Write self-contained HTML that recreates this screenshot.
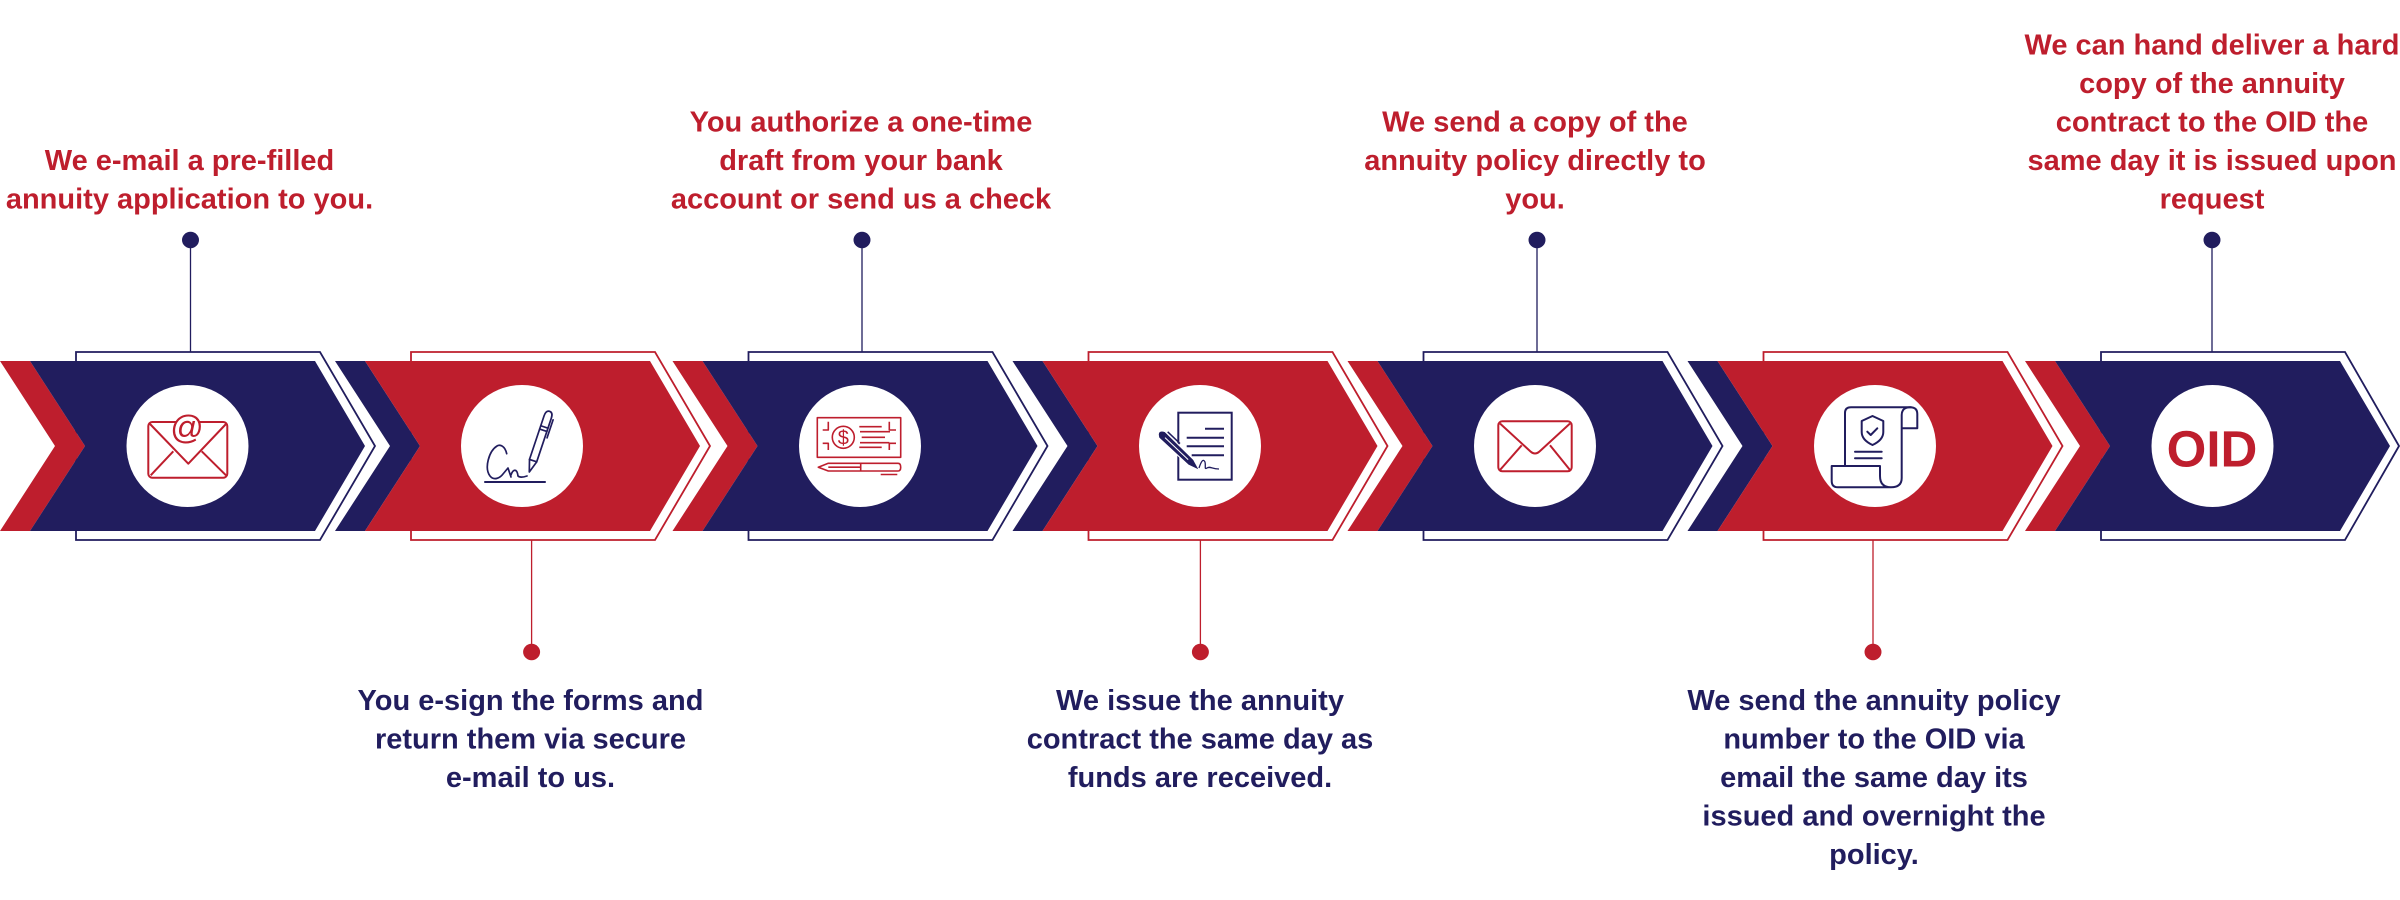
<!DOCTYPE html>
<html>
<head>
<meta charset="utf-8">
<style>
  html, body { margin:0; padding:0; background:#ffffff; }
  body { width:2400px; height:900px; overflow:hidden; position:relative; }
  svg { display:block; }
  .t { font-family:"Liberation Sans", Arial, sans-serif; font-weight:bold; font-size:29px; text-anchor:middle; }
  .tr { fill:#BE1E2D; }
  .tn { fill:#211D5E; }
</style>
</head>
<body>
<svg width="2400" height="900" viewBox="0 0 2400 900" xmlns="http://www.w3.org/2000/svg">
  <rect x="0" y="0" width="2400" height="900" fill="#ffffff"/>

  <!-- outlines (behind) -->
  <g fill="none" stroke-width="1.8">
    <path d="M76,352 H320 L375,446 L320,540 H76 Z" stroke="#211D5E"/>
    <path d="M411,352 H655 L710,446 L655,540 H411 Z" stroke="#BE1E2D"/>
    <path d="M748.5,352 H992.5 L1047.5,446 L992.5,540 H748.5 Z" stroke="#211D5E"/>
    <path d="M1088.5,352 H1332.5 L1387.5,446 L1332.5,540 H1088.5 Z" stroke="#BE1E2D"/>
    <path d="M1423.5,352 H1667.5 L1722.5,446 L1667.5,540 H1423.5 Z" stroke="#211D5E"/>
    <path d="M1763.5,352 H2007.5 L2062.5,446 L2007.5,540 H1763.5 Z" stroke="#BE1E2D"/>
    <path d="M2101,352 H2345 L2399,446 L2345,540 H2101 Z" stroke="#211D5E"/>
  </g>

  <!-- stripes -->
  <polygon points="0,361 30,361 85,446 30,531 0,531 55,446" fill="#BE1E2D"/>
  <polygon points="335,361 365,361 420,446 365,531 335,531 390,446" fill="#211D5E"/>
  <polygon points="672.5,361 702.5,361 757.5,446 702.5,531 672.5,531 727.5,446" fill="#BE1E2D"/>
  <polygon points="1012.5,361 1042.5,361 1097.5,446 1042.5,531 1012.5,531 1067.5,446" fill="#211D5E"/>
  <polygon points="1347.5,361 1377.5,361 1432.5,446 1377.5,531 1347.5,531 1402.5,446" fill="#BE1E2D"/>
  <polygon points="1687.5,361 1717.5,361 1772.5,446 1717.5,531 1687.5,531 1742.5,446" fill="#211D5E"/>
  <polygon points="2025,361 2055,361 2110,446 2055,531 2025,531 2080,446" fill="#BE1E2D"/>

  <!-- bodies -->
  <polygon points="30,361 315,361 365,446 315,531 30,531 85,446" fill="#211D5E"/>
  <polygon points="365,361 650,361 700,446 650,531 365,531 420,446" fill="#BE1E2D"/>
  <polygon points="702.5,361 987.5,361 1037.5,446 987.5,531 702.5,531 757.5,446" fill="#211D5E"/>
  <polygon points="1042.5,361 1327.5,361 1377.5,446 1327.5,531 1042.5,531 1097.5,446" fill="#BE1E2D"/>
  <polygon points="1377.5,361 1662.5,361 1712.5,446 1662.5,531 1377.5,531 1432.5,446" fill="#211D5E"/>
  <polygon points="1717.5,361 2002.5,361 2052.5,446 2002.5,531 1717.5,531 1772.5,446" fill="#BE1E2D"/>
  <polygon points="2055,361 2340,361 2390,446 2340,531 2055,531 2110,446" fill="#211D5E"/>

  <!-- circles -->
  <g fill="#ffffff">
    <circle cx="187.5" cy="446" r="61"/>
    <circle cx="522" cy="446" r="61"/>
    <circle cx="860" cy="446" r="61"/>
    <circle cx="1200" cy="446" r="61"/>
    <circle cx="1535" cy="446" r="61"/>
    <circle cx="1875" cy="446" r="61"/>
    <circle cx="2212.5" cy="446" r="61"/>
  </g>

  <!-- connectors top -->
  <g stroke="#211D5E" stroke-width="1.3">
    <line x1="190.5" y1="246" x2="190.5" y2="352"/>
    <line x1="862" y1="246" x2="862" y2="352"/>
    <line x1="1537" y1="246" x2="1537" y2="352"/>
    <line x1="2212" y1="246" x2="2212" y2="352"/>
  </g>
  <g fill="#211D5E">
    <ellipse cx="190.5" cy="240" rx="8.5" ry="8.2"/>
    <ellipse cx="862" cy="240" rx="8.5" ry="8.2"/>
    <ellipse cx="1537" cy="240" rx="8.5" ry="8.2"/>
    <ellipse cx="2212" cy="240" rx="8.5" ry="8.2"/>
  </g>
  <!-- connectors bottom -->
  <g stroke="#BE1E2D" stroke-width="1.3">
    <line x1="531.6" y1="540" x2="531.6" y2="646"/>
    <line x1="1200.4" y1="540" x2="1200.4" y2="646"/>
    <line x1="1873" y1="540" x2="1873" y2="646"/>
  </g>
  <g fill="#BE1E2D">
    <ellipse cx="531.6" cy="652" rx="8.5" ry="8.2"/>
    <ellipse cx="1200.4" cy="652" rx="8.5" ry="8.2"/>
    <ellipse cx="1873" cy="652" rx="8.5" ry="8.2"/>
  </g>

  <!-- Icon 1: envelope with @ -->
  <g fill="none" stroke="#BE1E2D" stroke-width="2" stroke-linejoin="round">
    <rect x="148.3" y="422" width="79" height="55.7" rx="4"/>
    <polyline points="150,424 188.3,463.7 226,424"/>
    <line x1="150.7" y1="475.3" x2="173.3" y2="451.3"/>
    <line x1="226" y1="475.3" x2="201.7" y2="451.3"/>
  </g>
  <circle cx="187" cy="429" r="13.5" fill="#ffffff"/>
  <text x="187" y="438.5" font-family="Liberation Sans, Arial, sans-serif" font-size="33" fill="#BE1E2D" text-anchor="middle">@</text>

  <!-- Icon 2: signature + pen -->
  <g fill="none" stroke="#211D5E" stroke-width="1.7" stroke-linecap="round" stroke-linejoin="round">
    <line x1="485" y1="482" x2="545" y2="482" stroke-width="2"/>
    <path d="M506.7,453.7 C505,446 500,444 497,446 C489,451 484,468 490,476 C494,481 500,478 503,474 L508,468 L511,477 M511,475 C513,469 517,468 518,476 C520,478 524,477 527,476"/>
    <g transform="translate(529.3,472) rotate(18.5)">
      <path d="M0,0 L-3.8,-12 L-3.8,-58 Q-3.8,-64 0,-64 Q3.8,-64 3.8,-58 L3.8,-12 Z" fill="#ffffff"/>
      <path d="M-3.8,-12 H3.8 M-3.8,-44 H3.8 M-3.8,-47.5 H3.8"/>
      <path d="M6,-57 V-38"/>
    </g>
  </g>

  <!-- Icon 3: check -->
  <g fill="none" stroke="#BE1E2D" stroke-width="1.6" stroke-linejoin="round">
    <rect x="817.3" y="417.7" width="83.4" height="39.6"/>
    <path d="M828.3,421.7 V430 H822.7"/>
    <path d="M889.3,421.7 V430 H896"/>
    <path d="M822.7,443.3 H828.3 V450"/>
    <path d="M896,443.3 H889.3 V450"/>
    <circle cx="843.3" cy="437.3" r="11"/>
    <path d="M859.3,426.7 H881.7 M860,431.7 H890 M861.7,437.3 H885 M860,442.7 H889.3 M859.3,447.3 H881.7"/>
    <path d="M818.3,467.2 L828.3,463.3 H898 Q900.7,463.3 900.7,467.2 Q900.7,471 898,471 H828.3 Z"/>
    <path d="M860.7,463.3 V471 M828.3,467.2 H860.7"/>
    <path d="M880.7,474.5 H897.3"/>
  </g>
  <text x="843.3" y="444.5" font-family="Liberation Sans, Arial, sans-serif" font-size="20" fill="#BE1E2D" text-anchor="middle">$</text>

  <!-- Icon 4: document with pen -->
  <g fill="none" stroke="#211D5E" stroke-width="2">
    <rect x="1178.3" y="412.7" width="53.4" height="67"/>
    <path d="M1205,428.7 H1224 M1186.7,437.7 H1224 M1186.7,446.3 H1224 M1191.7,455.3 H1224"/>
  </g>
  <g transform="translate(1198.3,469.3) rotate(-46.4)">
    <path d="M0,0 L-3.2,-10 L-3.8,-50 Q0,-57 3.8,-50 L3.2,-10 Z" fill="#211D5E" stroke="#ffffff" stroke-width="2.5" paint-order="stroke"/>
    <path d="M-3.2,-10 L-3.8,-50 Q0,-57 3.8,-50 L3.2,-10 Z" fill="#211D5E"/>
    <path d="M0,-14 V-46" stroke="#ffffff" stroke-width="1"/>
    <path d="M6,-48 V-31" stroke="#211D5E" stroke-width="1.5" fill="none"/>
  </g>
  <path d="M1199,468 C1201,462 1203,458 1205,462 C1206,466 1204,470 1207,468 C1210,466 1212,469 1219,469" fill="none" stroke="#211D5E" stroke-width="1.3"/>

  <!-- Icon 5: envelope -->
  <g fill="none" stroke="#BE1E2D" stroke-width="2" stroke-linejoin="round">
    <rect x="1498.3" y="421.3" width="73.4" height="50" rx="4"/>
    <path d="M1500,423.5 L1530.5,451.5 Q1535,455.5 1539.5,451.5 L1570,423.5"/>
    <line x1="1500" y1="470" x2="1521.7" y2="445.3"/>
    <line x1="1570" y1="470" x2="1550" y2="445.3"/>
  </g>

  <!-- Icon 6: scroll certificate -->
  <g fill="none" stroke="#211D5E" stroke-width="2" stroke-linejoin="round" stroke-linecap="round">
    <path d="M1845,466 V413 Q1845,407.3 1851,407.3 H1911"/>
    <path d="M1901.7,428.3 H1917.3 V414 Q1917.3,407.3 1910,407.3 Q1901.7,407.3 1901.7,415 V478 Q1901.7,487.3 1891,487.3 H1838 Q1831.7,487.3 1831.7,481 V466 H1880 V476 Q1880,487.3 1891,487.3"/>
    <path d="M1872.5,416 L1883.3,421 V432 Q1883.3,440 1872.5,445 Q1861.7,440 1861.7,432 V421 Z"/>
    <path d="M1867.3,431.7 L1870.7,435 L1877.3,428.3"/>
    <path d="M1855,451.7 H1881.7 M1855,458.3 H1881.7"/>
  </g>

  <!-- Icon 7: OID -->
  <text x="2212" y="466.5" font-family="Liberation Sans, Arial, sans-serif" font-weight="bold" font-size="51" fill="#BE1E2D" text-anchor="middle">OID</text>

  <!-- Top texts (red) -->
  <text class="t tr" x="189.5" y="169.8">We e-mail a pre-filled</text>
  <text class="t tr" x="189.5" y="208.3">annuity application to you.</text>

  <text class="t tr" x="861" y="131.3">You authorize a one-time</text>
  <text class="t tr" x="861" y="169.8">draft from your bank</text>
  <text class="t tr" x="861" y="208.3">account or send us a check</text>

  <text class="t tr" x="1535" y="131.3">We send a copy of the</text>
  <text class="t tr" x="1535" y="169.8">annuity policy directly to</text>
  <text class="t tr" x="1535" y="208.3">you.</text>

  <text class="t tr" x="2212" y="54.3">We can hand deliver a hard</text>
  <text class="t tr" x="2212" y="92.8">copy of the annuity</text>
  <text class="t tr" x="2212" y="131.3">contract to the OID the</text>
  <text class="t tr" x="2212" y="169.8">same day it is issued upon</text>
  <text class="t tr" x="2212" y="208.3">request</text>

  <!-- Bottom texts (navy) -->
  <text class="t tn" x="530.5" y="710">You e-sign the forms and</text>
  <text class="t tn" x="530.5" y="748.5">return them via secure</text>
  <text class="t tn" x="530.5" y="787">e-mail to us.</text>

  <text class="t tn" x="1200" y="710">We issue the annuity</text>
  <text class="t tn" x="1200" y="748.5">contract the same day as</text>
  <text class="t tn" x="1200" y="787">funds are received.</text>

  <text class="t tn" x="1874" y="710">We send the annuity policy</text>
  <text class="t tn" x="1874" y="748.5">number to the OID via</text>
  <text class="t tn" x="1874" y="787">email the same day its</text>
  <text class="t tn" x="1874" y="825.5">issued and overnight the</text>
  <text class="t tn" x="1874" y="864">policy.</text>
</svg>
</body>
</html>
